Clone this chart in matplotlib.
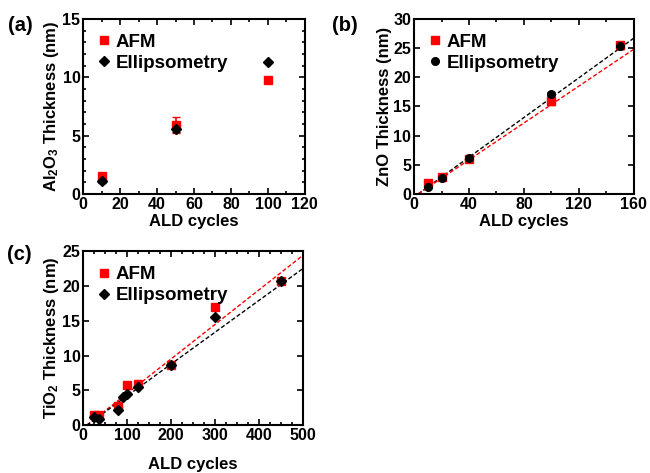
import matplotlib
matplotlib.use("Agg")
import matplotlib.pyplot as plt
from matplotlib.ticker import MultipleLocator

plt.rcParams["font.family"] = ["Liberation Sans", "DejaVu Sans"]
plt.rcParams["font.weight"] = "bold"
plt.rcParams["axes.labelweight"] = "bold"
plt.rcParams["mathtext.fontset"] = "custom"
plt.rcParams["mathtext.rm"] = "Liberation Sans:bold"
plt.rcParams["mathtext.default"] = "rm"

# (a) Al2O3
al_afm_x = [10, 50, 100]
al_afm_y = [1.5, 5.9, 9.8]
al_afm_err = [0.15, 0.7, 0.1]
al_ell_x = [10, 50, 100]
al_ell_y = [1.1, 5.6, 11.3]
al_ell_err = [0.2, 0.3, 0.0]

# (b) ZnO
zn_afm_x = [10, 20, 40, 100, 150]
zn_afm_y = [1.8, 2.9, 6.0, 16.0, 25.5]
zn_afm_err = [0.5, 0.4, 0.3, 0.8, 0.6]
zn_ell_x = [10, 20, 40, 100, 150]
zn_ell_y = [1.2, 2.8, 6.2, 17.2, 25.3]
zn_ell_err = [0.2, 0.2, 0.2, 0.3, 0.5]
zn_fit_x = [3, 160]
zn_fit_afm = [0.0, 24.8]
zn_fit_ell = [0.0, 26.7]

# (c) TiO2
ti_afm_x = [25, 35, 80, 100, 125, 200, 300, 450]
ti_afm_y = [1.5, 1.4, 2.8, 5.8, 5.9, 8.6, 17.0, 20.7]
ti_ell_x = [25, 35, 80, 90, 100, 125, 200, 300, 450]
ti_ell_y = [1.2, 0.9, 2.2, 4.0, 4.5, 5.5, 8.6, 15.5, 20.7]
ti_fit_x = [8, 500]
ti_fit_afm = [0.0, 24.4]
ti_fit_ell = [0.0, 22.5]

RED = "#ff0000"
DASH = (0, (3, 1.6))


def style_axes(ax, xmax, xmajor, xminor, ymax, ymajor, yminor):
    ax.set_xlim(0, xmax)
    ax.set_ylim(0, ymax)
    ax.xaxis.set_major_locator(MultipleLocator(xmajor))
    ax.yaxis.set_major_locator(MultipleLocator(ymajor))
    if xminor:
        ax.xaxis.set_minor_locator(MultipleLocator(xminor))
    if yminor:
        ax.yaxis.set_minor_locator(MultipleLocator(yminor))
    ax.tick_params(which="both", direction="in", top=True, right=True, width=1.2)
    ax.tick_params(which="major", length=4, labelsize=11.5, pad=2)
    ax.tick_params(which="minor", length=2.5)
    for sp in ax.spines.values():
        sp.set_linewidth(1.5)
    ax.set_xlabel("ALD cycles", fontsize=12, labelpad=2)


def add_legend(ax, afm, ell):
    ax.legend([afm, ell], ["AFM", "Ellipsometry"], loc="upper left",
              bbox_to_anchor=(0.0, 1.0), frameon=False, fontsize=13.5,
              handlelength=0.6, handletextpad=0.35, labelspacing=0.2,
              borderaxespad=0.4)


fig = plt.figure(figsize=(6.5, 4.73), dpi=100)
ax_a = fig.add_axes([0.128, 0.590, 0.341, 0.370])
ax_b = fig.add_axes([0.637, 0.590, 0.338, 0.370])
ax_c = fig.add_axes([0.128, 0.101, 0.338, 0.368])

# (a)
style_axes(ax_a, 120, 20, 10, 15, 5, 1)
ax_a.errorbar(al_afm_x, al_afm_y, yerr=al_afm_err, fmt="none", ecolor=RED,
              elinewidth=1.2, capsize=3)
ax_a.errorbar(al_ell_x, al_ell_y, yerr=al_ell_err, fmt="none", ecolor="black",
              elinewidth=1.2, capsize=3)
h1, = ax_a.plot(al_afm_x, al_afm_y, "s", color=RED, ms=5.5, ls="none")
h2, = ax_a.plot(al_ell_x, al_ell_y, "D", color="black", ms=5.2, ls="none")
ax_a.set_ylabel("Al$_2$O$_3$ Thickness (nm)", fontsize=12, labelpad=1)
add_legend(ax_a, h1, h2)

# (b)
style_axes(ax_b, 160, 40, 20, 30, 5, None)
ax_b.plot(zn_fit_x, zn_fit_ell, color="black", lw=1.0, ls=DASH)
ax_b.plot(zn_fit_x, zn_fit_afm, color=RED, lw=1.0, ls=DASH)
ax_b.errorbar(zn_afm_x, zn_afm_y, yerr=zn_afm_err, fmt="none", ecolor=RED,
              elinewidth=1.2, capsize=3)
ax_b.errorbar(zn_ell_x, zn_ell_y, yerr=zn_ell_err, fmt="none", ecolor="black",
              elinewidth=1.2, capsize=3)
h1, = ax_b.plot(zn_afm_x, zn_afm_y, "s", color=RED, ms=5.5, ls="none")
h2, = ax_b.plot(zn_ell_x, zn_ell_y, "o", color="black", ms=5.5, ls="none")
ax_b.set_ylabel("ZnO Thickness (nm)", fontsize=12, labelpad=1)
add_legend(ax_b, h1, h2)

# (c)
style_axes(ax_c, 500, 100, 25, 25, 5, None)
ax_c.plot(ti_fit_x, ti_fit_afm, color=RED, lw=1.0, ls=DASH)
ax_c.plot(ti_fit_x, ti_fit_ell, color="black", lw=1.0, ls=DASH)
h1, = ax_c.plot(ti_afm_x, ti_afm_y, "s", color=RED, ms=5.5, ls="none")
h2, = ax_c.plot(ti_ell_x, ti_ell_y, "D", color="black", ms=5.2, ls="none")
ax_c.set_ylabel("TiO$_2$ Thickness (nm)", fontsize=12, labelpad=1)
ax_c.set_xlabel("ALD cycles", fontsize=12, labelpad=10)
add_legend(ax_c, h1, h2)

fig.text(0.012, 0.947, "(a)", fontsize=14.5, fontweight="bold", va="center")
fig.text(0.511, 0.947, "(b)", fontsize=14.5, fontweight="bold", va="center")
fig.text(0.010, 0.461, "(c)", fontsize=14.5, fontweight="bold", va="center")

fig.savefig("out.png", dpi=100)
plt.close(fig)
